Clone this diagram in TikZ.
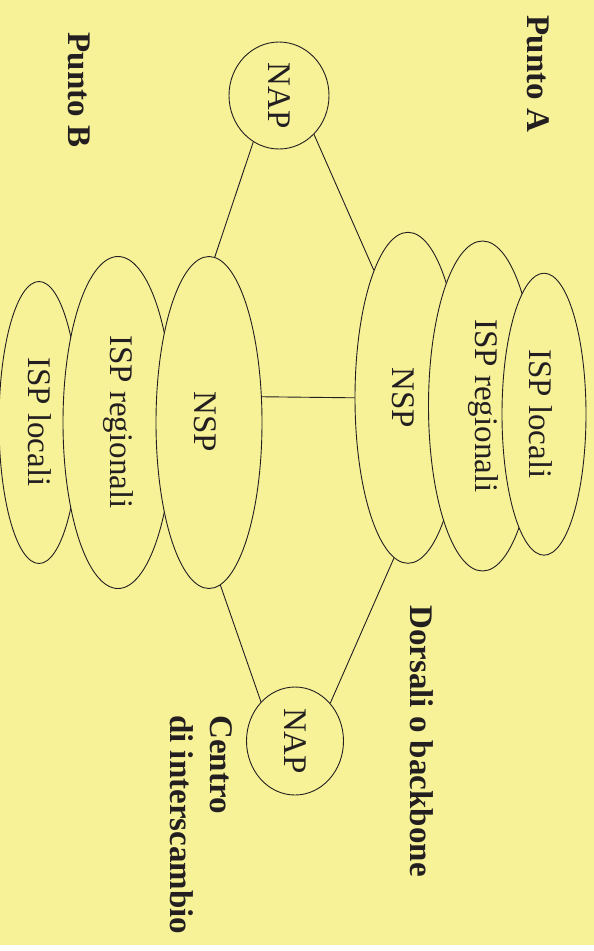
\documentclass[tikz,border=0pt]{standalone}
\usepackage{fontspec}
\setmainfont{Liberation Serif}
\usetikzlibrary{shapes.geometric}
\definecolor{bg}{RGB}{247,242,152}
\definecolor{ink}{RGB}{35,31,32}
\begin{document}
\begin{tikzpicture}[x=1pt,y=-1pt,
  oval/.style={ellipse, draw=ink, fill=bg, line width=0.9pt, inner sep=0pt},
  txt/.style={rotate=-90, font=\fontsize{33}{40}\selectfont, text=ink, inner sep=0pt},
  btxt/.style={rotate=-90, font=\fontsize{33}{40}\selectfont\bfseries, text=ink, inner sep=0pt},
  link/.style={draw=ink, line width=0.9pt}]
\useasboundingbox (0,0) rectangle (594,951);
\fill[white] (0,0) rectangle (594,951);
\fill[bg] (0,0) rectangle (594,945);

% Punto B side
\node[oval, minimum width=80pt, minimum height=282pt] (locB) at (39,422.5) {};
\node[oval, minimum width=110pt, minimum height=332pt] (regB) at (118,422.5) {};
\node[oval, minimum width=106pt, minimum height=332pt] (nspB) at (209,422.5) {};
% Punto A side
\node[oval, minimum width=106pt, minimum height=331pt] (nspA) at (408,397.8) {};
\node[oval, minimum width=108pt, minimum height=330pt] (regA) at (482.5,406) {};
\node[oval, minimum width=84pt, minimum height=282pt] (locA) at (544,414.2) {};
% NAPs
\node[oval, minimum width=100pt, minimum height=107pt] (napT) at (279,95.5) {};
\node[oval, minimum width=97pt, minimum height=108pt] (napB) at (295,741) {};

% texts in shapes
\node[txt] (tlocB) at (40,422) {ISP locali};
\node[txt] (tregB) at (118,422) {ISP regionali};
\node[txt] (tnspB) at (205,422) {NSP};
\node[txt] (tnspA) at (403,398) {NSP};
\node[txt] (tregA) at (483,406) {ISP regionali};
\node[txt] (tlocA) at (541,414) {ISP locali};
\node[txt] (tnapT) at (279,95.5) {NAP};
\node[txt] (tnapB) at (295,741) {NAP};

% labels
\node[btxt] (puntoA) at (538.5,74) {Punto A};
\node[btxt] (puntoB) at (79,90) {Punto B};
\node[btxt] (dorsali) at (422,741) {Dorsali o backbone};
\node[btxt, align=left, anchor=north west] (centro) at (233,715) {Centro\\di interscambio};

% connectors
\draw[link] (napT.-119) -- (nspB.88.5);
\draw[link] (napT.-48.6) -- (nspA.105);
\draw[link] (nspB.26) -- (nspA.west);
\draw[link] (nspA.-95) -- (napB.47.6);
\draw[link] (nspB.-86.7) -- (napB.131);
\end{tikzpicture}
\end{document}
